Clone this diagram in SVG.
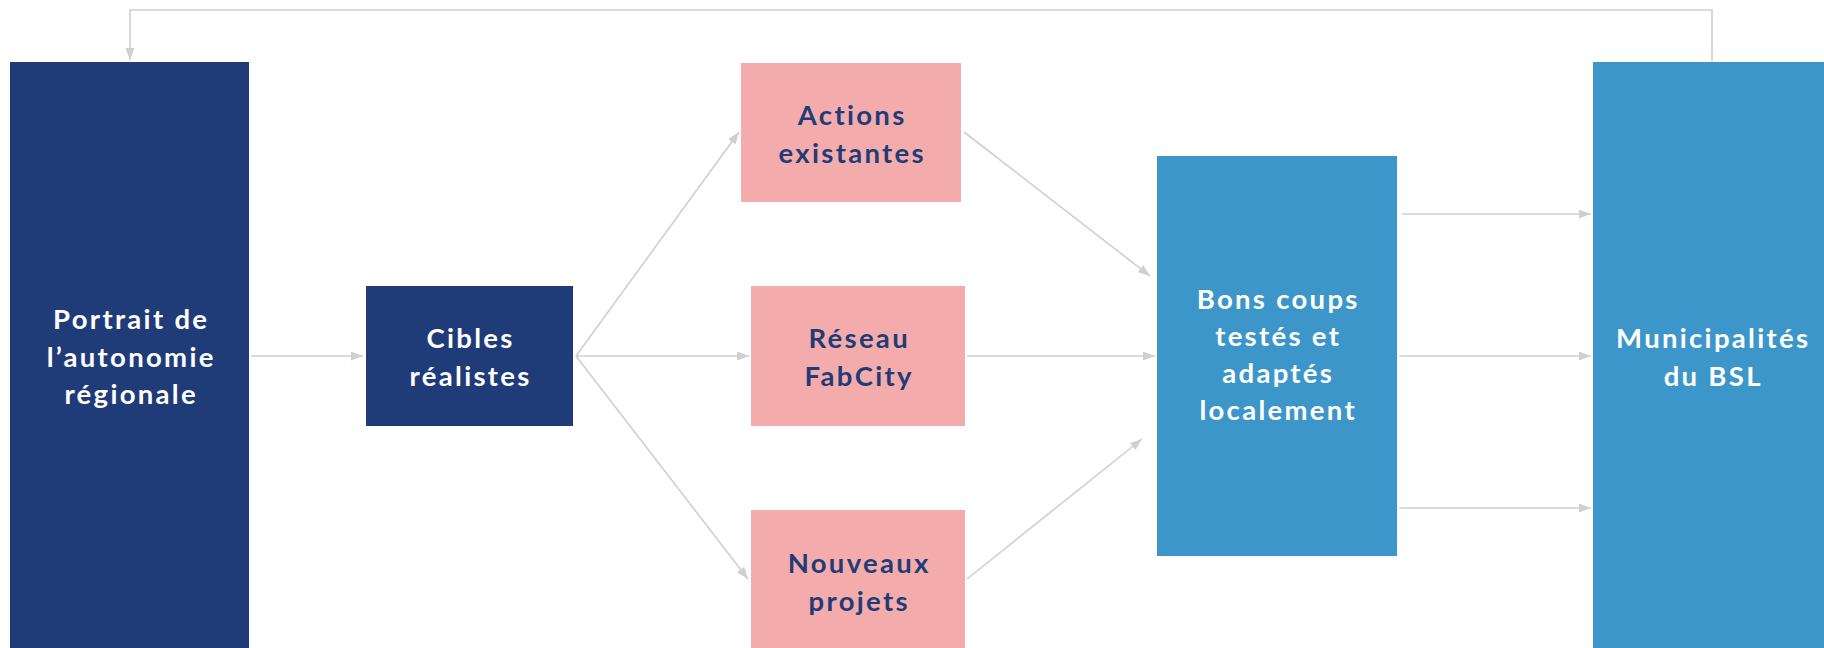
<svg xmlns="http://www.w3.org/2000/svg" width="1824" height="648" viewBox="0 0 1824 648">
<defs>
<marker id="ah" markerWidth="12" markerHeight="9" refX="12" refY="4.5" orient="auto" markerUnits="userSpaceOnUse">
<path d="M0,0 L12,4.5 L0,9 Z" fill="#cfcfcf"/>
</marker>
<style>
.navy{fill:#1f3c79}
.pink{fill:#f4abab}
.blue{fill:#3d96c9}
text{font-family:Lato,"Open Sans",sans-serif;font-weight:700;font-size:27.5px;letter-spacing:2.3px;text-anchor:middle}
.w{fill:#ffffff}
.d{fill:#1f3c79}
.c{fill:none;stroke:#cfcfcf;stroke-width:1.6;marker-end:url(#ah)}
</style>
</defs>
<rect width="1824" height="648" fill="#ffffff"/>
<g id="connectors">
<path class="c" d="M1712,61 V10 H130 V60"/>
<line class="c" x1="251" y1="356" x2="363" y2="356"/>
<line class="c" x1="576" y1="356" x2="739" y2="132"/>
<line class="c" x1="576" y1="356" x2="749" y2="356"/>
<line class="c" x1="576" y1="356" x2="748" y2="579"/>
<line class="c" x1="964" y1="132" x2="1150" y2="276"/>
<line class="c" x1="967" y1="356" x2="1155" y2="356"/>
<line class="c" x1="967" y1="579" x2="1142" y2="439"/>
<line class="c" x1="1402" y1="214" x2="1591" y2="214"/>
<line class="c" x1="1399" y1="356" x2="1591" y2="356"/>
<line class="c" x1="1399" y1="508" x2="1591" y2="508"/>
</g>
<g id="portrait">
<rect class="navy" x="10" y="62" width="239" height="600"/>
<text class="w" x="131.2" y="329">Portrait de</text>
<text class="w" x="131.2" y="367">l’autonomie</text>
<text class="w" x="131.2" y="404">régionale</text>
</g>
<g id="cibles">
<rect class="navy" x="366" y="286" width="207" height="140"/>
<text class="w" x="470.6" y="348">Cibles</text>
<text class="w" x="470.6" y="386">réalistes</text>
</g>
<g id="actions">
<rect class="pink" x="741" y="63" width="220" height="139"/>
<text class="d" x="852.2" y="125">Actions</text>
<text class="d" x="852.2" y="163">existantes</text>
</g>
<g id="reseau">
<rect class="pink" x="751" y="286" width="214" height="140"/>
<text class="d" x="859.2" y="348">Réseau</text>
<text class="d" x="859.2" y="386">FabCity</text>
</g>
<g id="nouveaux">
<rect class="pink" x="751" y="510" width="214" height="150"/>
<text class="d" x="859.2" y="573">Nouveaux</text>
<text class="d" x="859.2" y="611">projets</text>
</g>
<g id="bons">
<rect class="blue" x="1157" y="156" width="240" height="400"/>
<text class="w" x="1278.2" y="309">Bons coups</text>
<text class="w" x="1278.2" y="346">testés et</text>
<text class="w" x="1278.2" y="383">adaptés</text>
<text class="w" x="1278.2" y="420">localement</text>
</g>
<g id="municipalites">
<rect class="blue" x="1593" y="62" width="240" height="600"/>
<text class="w" x="1713.2" y="348">Municipalités</text>
<text class="w" x="1713.2" y="386">du BSL</text>
</g>
</svg>
